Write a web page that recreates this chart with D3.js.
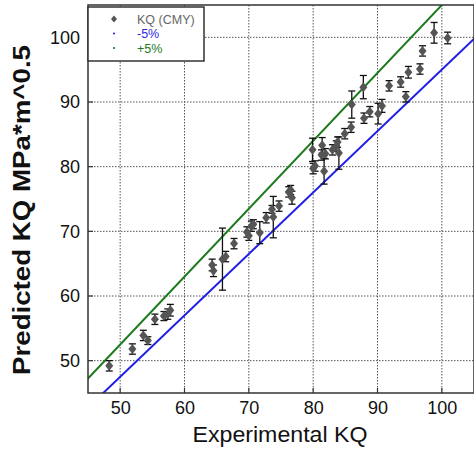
<!DOCTYPE html>
<html>
<head>
<meta charset="utf-8">
<script src="https://cdn.jsdelivr.net/npm/d3@7"></script>
<style>
  body { margin: 0; background: #fff; }
  svg { display: block; font-family: "Liberation Sans", Arial, sans-serif; }
</style>
</head>
<body>
<svg id="canvas"></svg>
<script>
// experimental KQ, predicted KQ, error (+/-)
const expKQ = [48.3, 51.9, 53.6, 54.3, 55.4, 56.8, 57.4, 57.8, 64.3, 64.5, 65.9, 66.4, 67.7,
  69.7, 70.0, 70.4, 70.7, 71.7, 72.7, 73.6, 73.8, 74.7, 76.2, 76.5, 76.7, 79.9, 80.0, 80.3,
  81.4, 81.3, 81.7, 81.9, 83.0, 83.6, 83.8, 84.0, 84.9, 85.9, 86.0, 87.8, 87.9, 88.8, 90.1,
  90.7, 91.8, 93.6, 94.4, 94.8, 96.6, 97.0, 98.8, 100.9];
const predKQ = [49.2, 51.8, 53.9, 53.1, 56.4, 56.9, 57.2, 57.8, 64.8, 63.9, 65.7, 66.1, 68.1,
  69.9, 69.3, 70.8, 71.1, 69.8, 72.1, 73.4, 72.2, 73.9, 76.1, 76.4, 75.2, 82.6, 79.7, 80.1,
  83.3, 81.8, 79.3, 82.0, 82.6, 83.2, 83.8, 82.1, 85.1, 86.1, 89.6, 92.3, 87.5, 88.5, 88.2,
  89.4, 92.5, 93.1, 90.8, 94.6, 95.1, 97.9, 100.7, 99.9];
const errKQ = [0.8, 0.8, 0.8, 0.6, 0.8, 0.7, 0.8, 0.9, 0.9, 0.9, 4.8, 0.8, 0.8,
  0.8, 0.7, 0.8, 0.7, 1.7, 0.8, 0.6, 3.2, 0.8, 0.8, 0.7, 1.0, 1.8, 0.8, 0.8,
  1.2, 0.8, 2.0, 0.8, 0.8, 0.8, 0.8, 2.5, 0.8, 0.8, 2.1, 1.8, 0.8, 0.8, 1.6,
  1.0, 0.8, 0.8, 0.8, 0.9, 0.8, 0.8, 1.6, 0.9];

const xTicks = [50, 60, 70, 80, 90, 100];
const yTicks = [50, 60, 70, 80, 90, 100];
const bandFactors = [0.95, 1.05];
const legendLabels = ["KQ (CMY)", "-5%", "+5%"];

const width = 474;
const height = 450;
const padL = 88, padR = 474, padT = 5, padB = 393;

const canvas = d3.select("#canvas").attr("width", width).attr("height", height);

const xScale = d3.scaleLinear().domain([45, 105]).range([padL, padR]);
const yScale = d3.scaleLinear().domain([45, 105]).range([padB, padT]);

canvas.append("defs").append("clipPath").attr("id", "clip")
  .append("rect").attr("x", padL).attr("y", padT)
  .attr("width", padR - padL).attr("height", padB - padT);

// grid
const grid = canvas.append("g").attr("stroke", "#555").attr("stroke-width", 1)
  .attr("stroke-dasharray", "1.5,1.5");
grid.selectAll(".gx").data(xTicks).enter().append("line")
  .attr("x1", (d) => xScale(d)).attr("x2", (d) => xScale(d))
  .attr("y1", padT).attr("y2", padB);
grid.selectAll(".gy").data(yTicks).enter().append("line")
  .attr("y1", (d) => yScale(d)).attr("y2", (d) => yScale(d))
  .attr("x1", padL).attr("x2", padR);

// +/-5% lines
const bandColors = ["#1f1fe6", "#1d7a1d"];
const plot = canvas.append("g").attr("clip-path", "url(#clip)");
bandFactors.forEach((f, i) => {
  plot.append("line")
    .attr("x1", xScale(40)).attr("y1", yScale(40 * f))
    .attr("x2", xScale(110)).attr("y2", yScale(110 * f))
    .attr("stroke", bandColors[i]).attr("stroke-width", 2);
});

// error bars
const pts = expKQ.map((x, i) => ({ x: x, y: predKQ[i], e: errKQ[i] }));
const eb = plot.append("g").attr("stroke", "#111").attr("stroke-width", 1.3);
pts.forEach((d) => {
  const cx = xScale(d.x);
  eb.append("line").attr("x1", cx).attr("x2", cx)
    .attr("y1", yScale(d.y - d.e)).attr("y2", yScale(d.y + d.e));
  eb.append("line").attr("x1", cx - 3.5).attr("x2", cx + 3.5)
    .attr("y1", yScale(d.y - d.e)).attr("y2", yScale(d.y - d.e));
  eb.append("line").attr("x1", cx - 3.5).attr("x2", cx + 3.5)
    .attr("y1", yScale(d.y + d.e)).attr("y2", yScale(d.y + d.e));
});

const diamond = "M0,-5L4,0L0,5L-4,0Z";
plot.selectAll(".pt").data(pts).enter().append("path")
  .attr("d", diamond)
  .attr("transform", (d) => `translate(${xScale(d.x)},${yScale(d.y)})`)
  .attr("fill", "#555");

// axes
const xAxis = d3.axisBottom(xScale).tickValues(xTicks).tickSize(0).tickPadding(8);
const yAxis = d3.axisLeft(yScale).tickValues(yTicks).tickSize(0).tickPadding(8);

const gx = canvas.append("g").attr("transform", `translate(0,${padB})`).call(xAxis);
const gy = canvas.append("g").attr("transform", `translate(${padL},0)`).call(yAxis);
[gx, gy].forEach((g) => {
  g.select(".domain").remove();
  g.selectAll("text").attr("font-size", 18).attr("fill", "#111")
    .attr("font-family", "Liberation Sans, Arial, sans-serif");
});

// inner tick marks
const tk = canvas.append("g").attr("stroke", "#333").attr("stroke-width", 1.2);
xTicks.forEach((t) => {
  tk.append("line").attr("x1", xScale(t)).attr("x2", xScale(t))
    .attr("y1", padB).attr("y2", padB - 5);
});
yTicks.forEach((t) => {
  tk.append("line").attr("y1", yScale(t)).attr("y2", yScale(t))
    .attr("x1", padL).attr("x2", padL + 5);
});

// frame
canvas.append("rect").attr("x", padL).attr("y", padT)
  .attr("width", padR - padL).attr("height", padB - padT)
  .attr("fill", "none").attr("stroke", "#333").attr("stroke-width", 1.5);

// legend
const lg = canvas.append("g");
lg.append("rect").attr("x", padL).attr("y", padT + 2).attr("width", 116).attr("height", 54)
  .attr("fill", "#fff").attr("stroke", "#333").attr("stroke-width", 1.5);
const legendColors = ["#666", "#2a2ae6", "#1d7a1d"];
legendLabels.forEach((l, i) => {
  const y = 19 + i * 14.5;
  if (i === 0) {
    lg.append("path").attr("d", "M0,-3.5L3,0L0,3.5L-3,0Z")
      .attr("transform", `translate(114,${y})`).attr("fill", "#555");
  } else {
    lg.append("circle").attr("cx", 114).attr("cy", y).attr("r", 1.1)
      .attr("fill", legendColors[i]);
  }
  lg.append("text").attr("x", 137).attr("y", y + 4.5).text(l)
    .attr("font-size", 12.5).attr("fill", legendColors[i]);
});

// titles
canvas.append("text").attr("x", 280).attr("y", 442)
  .attr("text-anchor", "middle").attr("font-size", 22).attr("fill", "#111")
  .attr("textLength", 175).attr("lengthAdjust", "spacingAndGlyphs")
  .text("Experimental KQ");
canvas.append("text")
  .attr("transform", `translate(30,210) rotate(-90)`)
  .attr("text-anchor", "middle").attr("font-size", 24).attr("font-weight", "bold")
  .attr("fill", "#111")
  .attr("textLength", 330).attr("lengthAdjust", "spacingAndGlyphs")
  .text("Predicted KQ MPa*m^0.5");
</script>
</body>
</html>
